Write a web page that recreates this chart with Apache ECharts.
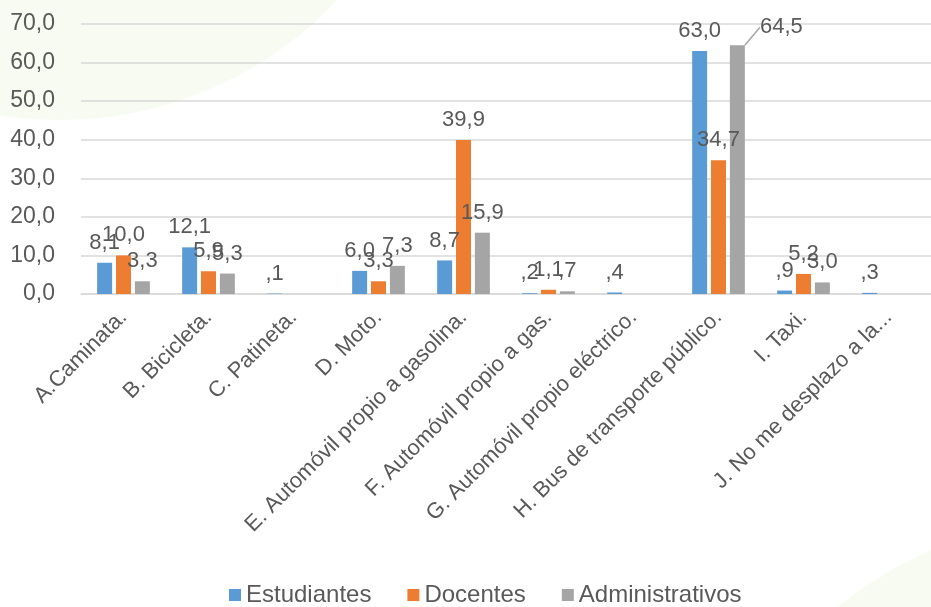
<!DOCTYPE html>
<html>
<head>
<meta charset="utf-8">
<script src="https://cdn.jsdelivr.net/npm/echarts@6/dist/echarts.min.js"></script>
<style>
  html, body { margin: 0; padding: 0; background: #fff; }
  #chart { width: 931px; height: 607px; }
</style>
</head>
<body>
<div id="chart"></div>
<script>
// categorias y valores (porcentaje)
const categories = [
  "A.Caminata.", "B. Bicicleta.", "C. Patineta.", "D. Moto.",
  "E. Automóvil propio a gasolina.", "F. Automóvil propio a gas.",
  "G. Automóvil propio eléctrico.", "H. Bus de transporte público.",
  "I. Taxi.", "J. No me desplazo a la..."
];
const estudiantes = [8.1, 12.1, 0.1, 6.0, 8.7, 0.2, 0.4, 63.0, 0.9, 0.3];
const docentes = [10.0, 5.9, null, 3.3, 39.9, 1.1, null, 34.7, 5.2, null];
const administrativos = [3.3, 5.3, null, 7.3, 15.9, 0.7, null, 64.5, 3.0, null];
const yTicks = [0, 10, 20, 30, 40, 50, 60, 70];

const FONT = "'Liberation Sans', sans-serif";
const MOVED = 7; // etiqueta 64,5 desplazada con linea guia

// formato tipo SPSS: coma decimal, sin cero inicial
function fmt(v) {
  let s = v.toFixed(1).replace(".", ",");
  if (s.startsWith("0,") && v !== 0) s = s.slice(1);
  return s;
}

const chart = echarts.init(document.getElementById("chart"));

function makeSeries(name, data, color, layout) {
  return {
    name: name,
    type: "bar",
    data: data,
    barGap: "26%",
    barCategoryGap: "38%",
    itemStyle: { color: color },
    label: {
      show: true,
      position: "top",
      distance: 9,
      color: "#595959",
      fontSize: 22,
      fontFamily: FONT,
      formatter: p => fmt(p.value)
    },
    labelLine: { show: false, lineStyle: { color: "#a6a6a6", width: 1.5 } },
    labelLayout: layout
  };
}

const adminData = administrativos.map((v, i) =>
  i === MOVED ? { value: v, labelLine: { show: true } } : v);

const option = {
  backgroundColor: "#fff",
  animation: false,
  graphic: [
    { type: "circle", shape: { cx: 60, cy: -260, r: 380 }, style: { fill: "rgba(200,225,150,0.12)" }, z: -10 },
    { type: "circle", shape: { cx: 1080, cy: 900, r: 380 }, style: { fill: "rgba(200,225,150,0.12)" }, z: -10 }
  ],
  grid: { left: 81, right: -9, top: 24, bottom: 313 },
  legend: {
    bottom: -5,
    left: 224,
    itemWidth: 12,
    itemHeight: 12,
    itemGap: 36,
    icon: "rect",
    textStyle: { color: "#595959", fontSize: 24, fontFamily: FONT }
  },
  xAxis: {
    type: "category",
    data: categories,
    axisLine: { lineStyle: { color: "#d9d9d9", width: 1.5 } },
    axisTick: { show: false },
    axisLabel: {
      rotate: 45,
      interval: 0,
      margin: 20,
      color: "#595959",
      fontSize: 22,
      fontFamily: FONT
    }
  },
  yAxis: {
    type: "value",
    min: yTicks[0],
    max: yTicks[yTicks.length - 1],
    interval: 10,
    axisLine: { show: false },
    axisTick: { show: false },
    splitLine: { lineStyle: { color: "#d9d9d9", width: 1.5 } },
    axisLabel: {
      margin: 26,
      color: "#595959",
      fontSize: 23,
      fontFamily: FONT,
      formatter: v => v.toFixed(1).replace(".", ",")
    }
  },
  series: [
    makeSeries("Estudiantes", estudiantes, "#5b9bd5"),
    makeSeries("Docentes", docentes, "#ed7d31"),
    makeSeries("Administrativos", adminData, "#a5a5a5",
      p => (p.dataIndex === MOVED ? { dx: 44, dy: 2 } : {}))
  ]
};

chart.setOption(option);
</script>
</body>
</html>
